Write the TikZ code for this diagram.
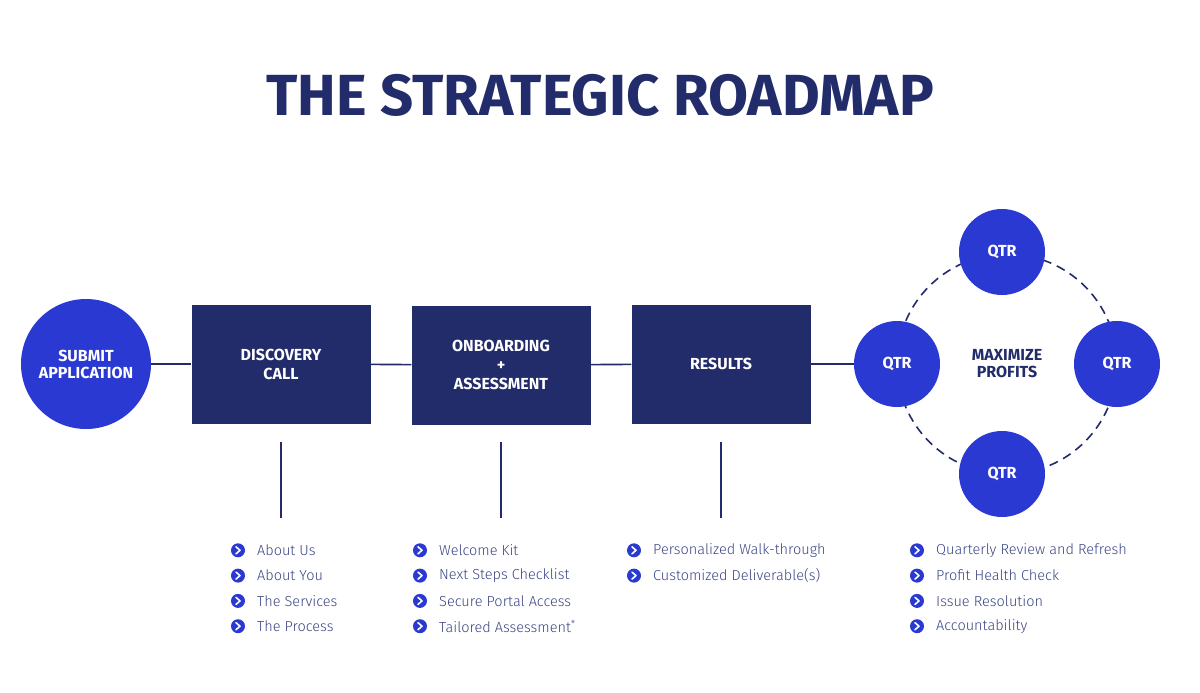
\documentclass[tikz,border=0pt]{standalone}
\usepackage{fontspec}
\setmainfont{Fira Sans}
\newfontfamily\itemfont{Fira Sans Light}
\usetikzlibrary{positioning}
\definecolor{navy}{HTML}{222C6A}
\definecolor{royal}{HTML}{2A39D2}
\definecolor{itemtext}{HTML}{3B4583}
\tikzset{
  stepround/.style={circle, fill=royal, text=white, font=\bfseries\fontsize{16}{17}\selectfont, align=center, inner sep=0pt},
  stepbox/.style={rectangle, fill=navy, text=white, font=\bfseries\fontsize{16}{19}\selectfont, align=center, minimum width=179pt, minimum height=119pt},
  link/.style={navy, line width=1.6pt},
  bul/.style={circle, fill=royal, minimum size=14pt, inner sep=0pt},
  itm/.style={anchor=west, text=itemtext, font=\itemfont\fontsize{14.5}{16}\selectfont, inner sep=0pt},
}
\newcommand{\itemlist}[3]{% x of icon, prefix, list
  \foreach \t [count=\i] in {#3} {
    \node[bul] (#2\i) at (#1, 525+25.3*\i) {};
    \draw[white, line width=1.6pt, line cap=round, line join=round]
      ([shift={(-2pt,-3.5pt)}]#2\i.center) -- ([shift={(2pt,0pt)}]#2\i.center) -- ([shift={(-2pt,3.5pt)}]#2\i.center);
    \node[itm] (#2t\i) at (#1+19, 525+25.3*\i) {\t};
  }
}

\begin{document}
\begin{tikzpicture}[x=1pt, y=-1pt]
\useasboundingbox (0,0) rectangle (1200,693);
% Title
\node[navy, font=\bfseries\fontsize{58}{60}\selectfont] (title) at (600,95) {THE STRATEGIC ROADMAP};
% Steps
\node[stepround, minimum size=130pt] (submit) at (86,364) {SUBMIT\\APPLICATION};
\node[stepbox] (disc) at (281,364) {DISCOVERY\\CALL};
\node[stepbox] (onb) at (501,365) {ONBOARDING\\+\\ASSESSMENT};
\node[stepbox] (res) at (721,364) {RESULTS};
% Quarterly loop
\coordinate (hub) at (1007,364);
\draw[navy, line width=1.6pt, dash pattern=on 9pt off 6pt] (hub) circle (110);
\node[navy, font=\bfseries\fontsize{16}{17}\selectfont, align=center] (max) at (hub) {MAXIMIZE\\PROFITS};
\node[stepround, minimum size=86pt] (qleft) at (897,364) {QTR};
\node[stepround, minimum size=86pt] (qtop) at (1002,252) {QTR};
\node[stepround, minimum size=86pt] (qright) at (1117,364) {QTR};
\node[stepround, minimum size=86pt] (qbot) at (1002,474) {QTR};
% Connectors
\draw[link] (submit) -- (disc);
\draw[link] (disc) -- (onb);
\draw[link] (onb) -- (res);
\draw[link] (res) -- (qleft);
\coordinate (d1) at (281,442); \coordinate (d2) at (281,518);
\coordinate (o1) at (501,442); \coordinate (o2) at (501,518);
\coordinate (r1) at (721,442); \coordinate (r2) at (721,518);
\draw[link] (d1) -- (d2);
\draw[link] (o1) -- (o2);
\draw[link] (r1) -- (r2);
% Lists
\itemlist{238}{a}{About Us, About You, The Services, The Process}
\itemlist{420}{b}{Welcome Kit, Next Steps Checklist, Secure Portal Access, Tailored Assessment\textsuperscript{*}}
\itemlist{634}{c}{Personalized Walk-through, Customized Deliverable(s)}
\itemlist{917}{e}{Quarterly Review and Refresh, Profit Health Check, Issue Resolution, Accountability}
\end{tikzpicture}
\end{document}
